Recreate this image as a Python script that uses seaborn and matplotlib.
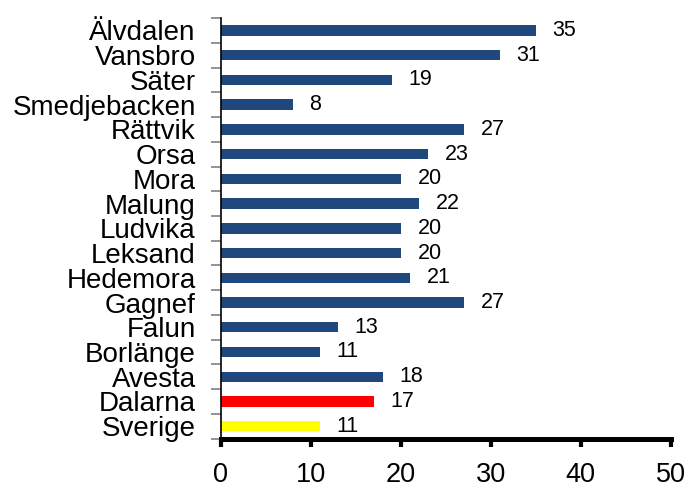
import matplotlib
matplotlib.use("Agg")
import matplotlib.pyplot as plt
import seaborn as sns
import pandas as pd
from matplotlib.ticker import FixedLocator

# Kommuner i Dalarna plus län och riket
kommuner = ["Älvdalen", "Vansbro", "Säter", "Smedjebacken", "Rättvik", "Orsa",
            "Mora", "Malung", "Ludvika", "Leksand", "Hedemora", "Gagnef",
            "Falun", "Borlänge", "Avesta", "Dalarna", "Sverige"]
varden = [35, 31, 19, 8, 27, 23, 20, 22, 20, 20, 21, 27, 13, 11, 18, 17, 11]
x_ticks = [0, 10, 20, 30, 40, 50]

BLUE = "#1F497D"
farger = {k: BLUE for k in kommuner}
farger["Dalarna"] = "#FF0000"
farger["Sverige"] = "#FFFF00"

df = pd.DataFrame({"kommun": kommuner, "varde": varden})

sns.set_theme(style="white")
plt.rcParams["font.family"] = ["Liberation Sans", "DejaVu Sans"]
plt.rcParams["text.color"] = "black"
plt.rcParams["xtick.labelcolor"] = "black"
plt.rcParams["ytick.labelcolor"] = "black"

fig = plt.figure(figsize=(6.9, 4.9), dpi=100)
ax = fig.add_axes([0.320, 0.105, 0.652, 0.858])

sns.barplot(data=df, x="varde", y="kommun", hue="kommun", palette=farger,
            order=kommuner, hue_order=kommuner, legend=False, orient="h",
            width=0.42, linewidth=0, saturation=1, ax=ax)

for cont in ax.containers:
    ax.bar_label(cont, labels=[f"{v:.0f}" for v in cont.datavalues],
                 padding=12, fontsize=15.5, color="black")

ax.set_xlim(x_ticks[0], x_ticks[-1])
ax.set_ylim(len(kommuner) - 0.5, -0.5)
ax.set_xticks(x_ticks)
ax.set_xticklabels([str(t) for t in x_ticks], fontsize=19.5)
ax.set_xlabel("")
ax.set_ylabel("")

# Category labels without ticks; tick marks at category boundaries
ax.tick_params(axis="y", which="major", length=0, pad=18, labelsize=20,
               labelcolor="black")
ax.yaxis.set_minor_locator(FixedLocator([i - 0.5 for i in range(len(kommuner) + 1)]))
ax.tick_params(axis="y", which="minor", left=True, length=7, width=1.2, color="#808080")
ax.tick_params(axis="x", which="major", bottom=True, direction="out", length=6,
               width=3, color="black", pad=11, labelcolor="black")

for side in ["top", "right"]:
    ax.spines[side].set_visible(False)
ax.spines["left"].set_color("black")
ax.spines["left"].set_linewidth(1.2)
ax.spines["bottom"].set_color("black")
ax.spines["bottom"].set_linewidth(3.6)
ax.grid(False)

fig.savefig("out.png", dpi=100)
